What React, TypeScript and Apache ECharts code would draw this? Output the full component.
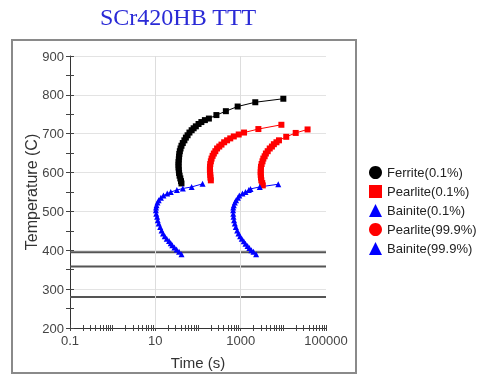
import React, { useEffect, useRef } from "react";
import * as echarts from "echarts";

const titleText = "SCr420HB TTT";

const ferriteTemp = [572, 578, 585, 592, 599, 606, 613, 620, 627, 634, 641, 648, 655, 662, 669, 676, 683, 690, 696, 703, 709, 714, 719, 725, 730, 735, 739, 748, 758, 770, 781, 790];
const ferriteTime = [41, 40, 38.5, 37, 36, 35.5, 35, 35, 35, 35.5, 36, 36.5, 37.5, 39, 41, 44, 48, 52, 57, 63, 71, 79, 89, 103, 120, 145, 180, 270, 450, 850, 2200, 10000];

const pearlite1Temp = [580, 587, 594, 601, 608, 615, 622, 629, 636, 643, 649, 655, 662, 667, 672, 678, 683, 688, 693, 698, 703, 712, 723];
const pearlite1Time = [200, 196, 194, 192, 190, 191, 194, 200, 208, 220, 235, 255, 280, 315, 355, 410, 480, 570, 690, 900, 1200, 2600, 9000];

const bainite1Temp = [390, 396, 402, 407, 413, 418, 424, 430, 436, 443, 451, 460, 469, 477, 486, 494, 503, 510, 516, 523, 529, 535, 541, 546, 550, 555, 559, 563, 571];
const bainite1Time = [41, 36, 31.6, 28, 25, 23, 21, 18.5, 16.6, 15.2, 14, 13, 12, 11.4, 11, 10.5, 10.3, 10.4, 10.7, 11.2, 12, 13.5, 15.5, 19, 23, 32, 44, 71, 128];

const pearlite99Temp = [567, 573, 580, 587, 594, 601, 608, 615, 622, 629, 636, 642, 649, 655, 662, 667, 673, 678, 683, 692, 702, 711];
const pearlite99Time = [3300, 3200, 3050, 3000, 2950, 2950, 2960, 3000, 3100, 3250, 3400, 3650, 3900, 4300, 4800, 5400, 6000, 6900, 7900, 11700, 19500, 37000];

const bainite99Temp = [390, 396, 400, 406, 411, 417, 423, 430, 436, 443, 451, 460, 469, 477, 486, 494, 503, 510, 516, 523, 529, 535, 541, 546, 550, 555, 558, 563, 570];
const bainite99Time = [2300, 2000, 1780, 1600, 1450, 1300, 1180, 1060, 970, 890, 830, 770, 730, 700, 680, 670, 665, 670, 690, 730, 780, 860, 930, 1100, 1300, 1550, 1700, 2800, 7600];

const refTemps = [395, 358, 280];
const timeRange = [0.1, 100000];
const gridTimes = [10, 1000];

const legendNames = ["Ferrite(0.1%)", "Pearlite(0.1%)", "Bainite(0.1%)", "Pearlite(99.9%)", "Bainite(99.9%)"];

const pairs = (t: number[], T: number[]) => t.map((v, i) => [v, T[i]]);

export default function App() {
  const ref = useRef<HTMLDivElement>(null);
  useEffect(() => {
    if (!ref.current) return;
    const chart = echarts.init(ref.current, null, { renderer: "svg" });
    const font = "Liberation Sans";
    const curve = (name: string, data: number[][], color: string, symbol: string, size: number) => ({
      name,
      type: "line",
      data,
      symbol,
      symbolSize: size,
      showSymbol: true,
      lineStyle: { color, width: 1 },
      itemStyle: { color },
      z: 5,
    });
    const refSeries = refTemps.map((v, i) => ({
      name: "ref" + i,
      type: "line",
      data: [[timeRange[0], v], [timeRange[1], v]],
      symbol: "none",
      lineStyle: { color: "#555555", width: 2 },
      z: 3,
      silent: true,
      markLine:
        i === 0
          ? {
              silent: true,
              symbol: ["none", "none"],
              label: { show: false },
              lineStyle: { color: "#dddddd", type: "solid", width: 1 },
              data: gridTimes.map((g) => ({ xAxis: g })),
            }
          : undefined,
    }));
    const commonX = {
      type: "log",
      logBase: 10,
      min: timeRange[0],
      max: timeRange[1],
    };
    chart.setOption({
      animation: false,
      textStyle: { fontFamily: font },
      title: {
        text: titleText,
        left: 95,
        top: 0,
        textStyle: { fontFamily: "Liberation Serif", fontSize: 24, fontWeight: "normal", color: "#2a2ad6" },
      },
      graphic: [
        {
          type: "rect",
          shape: { x: 12, y: 40, width: 344, height: 333 },
          style: { fill: "none", stroke: "#8a8a8a", lineWidth: 2 },
          silent: true,
        },
      ],
      legend: {
        orient: "vertical",
        left: 364,
        top: 161,
        itemWidth: 13,
        itemHeight: 13,
        itemGap: 6,
        textStyle: { fontSize: 13, color: "#222", fontFamily: font },
        data: [
          { name: legendNames[0], icon: "circle" },
          { name: legendNames[1], icon: "rect" },
          { name: legendNames[2], icon: "triangle" },
          { name: legendNames[3], icon: "circle" },
          { name: legendNames[4], icon: "triangle" },
        ],
      },
      grid: { left: 70, right: 155, top: 56, bottom: 48 },
      xAxis: [
        {
          ...commonX,
          name: "Time (s)",
          nameLocation: "middle",
          nameGap: 27,
          nameMoveOverlap: false,
          nameTextStyle: { fontSize: 15, color: "#333", fontFamily: font },
          axisLine: { show: true, lineStyle: { color: "#333", width: 1 } },
          axisTick: { show: true, length: 3, lineStyle: { color: "#444" } },
          minorTick: { show: true, splitNumber: 9, length: 3, lineStyle: { color: "#444" } },
          splitLine: { show: false },
          axisLabel: {
            fontSize: 13,
            color: "#444",
            margin: 6,
            fontFamily: font,
            formatter: (v: number) => (Math.abs(Math.round(Math.log10(v))) % 2 === 1 ? String(v) : ""),
          },
        },
        {
          ...commonX,
          position: "bottom",
          axisLine: { show: false },
          axisTick: { show: true, inside: true, length: 3, lineStyle: { color: "#444" } },
          minorTick: { show: true, splitNumber: 9, length: 3, lineStyle: { color: "#444" } },
          splitLine: { show: false },
          axisLabel: { show: false },
        },
      ],
      yAxis: [
        {
          type: "value",
          min: 200,
          max: 900,
          interval: 100,
          name: "Temperature (C)",
          nameLocation: "middle",
          nameGap: 31,
          nameMoveOverlap: false,
          nameTextStyle: { fontSize: 16, color: "#333", fontFamily: font },
          axisLine: { show: true, onZero: false, lineStyle: { color: "#333", width: 1 } },
          axisTick: { show: true, length: 4, lineStyle: { color: "#444" } },
          minorTick: { show: true, splitNumber: 2, length: 4, lineStyle: { color: "#444" } },
          splitLine: { show: true, lineStyle: { color: "#e3e3e3", width: 1 } },
          axisLabel: { fontSize: 13, color: "#444", margin: 6, fontFamily: font },
        },
        {
          type: "value",
          min: 200,
          max: 900,
          interval: 100,
          position: "left",
          axisLine: { show: false },
          axisTick: { show: true, inside: true, length: 4, lineStyle: { color: "#444" } },
          minorTick: { show: true, splitNumber: 2, length: 4, lineStyle: { color: "#444" } },
          splitLine: { show: false },
          axisLabel: { show: false },
        },
      ],
      series: [
        ...refSeries,
        curve(legendNames[0], pairs(ferriteTime, ferriteTemp), "#000000", "rect", 6),
        curve(legendNames[1], pairs(pearlite1Time, pearlite1Temp), "#ff0000", "rect", 6),
        curve(legendNames[2], pairs(bainite1Time, bainite1Temp), "#0000ff", "triangle", 6),
        curve(legendNames[3], pairs(pearlite99Time, pearlite99Temp), "#ff0000", "rect", 6),
        curve(legendNames[4], pairs(bainite99Time, bainite99Temp), "#0000ff", "triangle", 6),
      ],
    });
    return () => chart.dispose();
  }, []);
  return <div ref={ref} style={{ position: "fixed", left: 0, top: 0, width: 481, height: 376 }} />;
}
